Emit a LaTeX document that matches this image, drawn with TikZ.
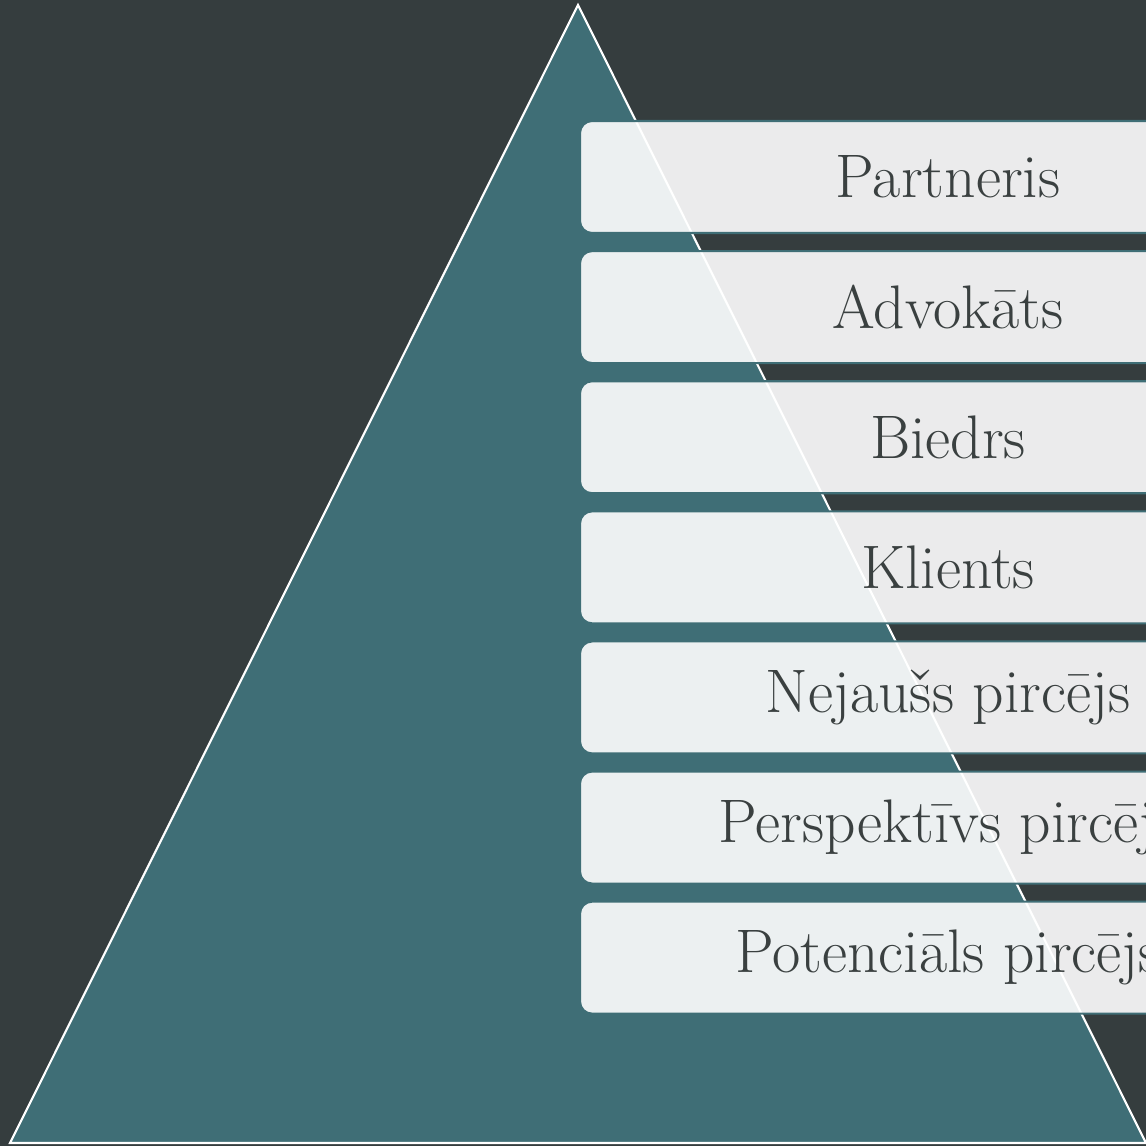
\documentclass[tikz,border=0pt]{standalone}
\usepackage{fontspec}
\usepackage{tikz}
\usetikzlibrary{positioning}
\definecolor{slate}{RGB}{53,61,62}
\definecolor{petrol}{RGB}{63,110,118}
\definecolor{inkgray}{RGB}{58,64,64}
\tikzset{level/.style={draw=petrol,line width=0.6pt,fill=white,fill opacity=0.9,
                       text opacity=1,text=inkgray,rectangle,rounded corners=0.12cm,
                       minimum width=7.36cm,minimum height=1.12cm,
                       font=\fontsize{17.5}{20}\selectfont},
         node distance=0.16cm}

\begin{document}
\begin{tikzpicture}
  \useasboundingbox (0,0) rectangle (11.46,-11.46);
  \clip (0,0) rectangle (11.46,-11.46);
  \fill[slate] (0,0) rectangle (11.46,-11.46);
  % the pyramid
  \coordinate (apex) at (5.78,-0.05);
  \coordinate (baseL) at (0.10,-11.43);
  \coordinate (baseR) at (11.46,-11.43);
  \filldraw[fill=petrol,draw=white,line width=0.6pt] (apex) -- (baseL) -- (baseR) -- cycle;
  % levels, top to bottom
  \node[level] (partneris) at (9.48,-1.77) {Partneris};
  \node[level,below=of partneris] (advokats) {Advokāts};
  \node[level,below=of advokats] (biedrs) {Biedrs};
  \node[level,below=of biedrs] (klients) {Klients};
  \node[level,below=of klients] (nejauss) {Nejaušs pircējs};
  \node[level,below=of nejauss] (perspektivs) {Perspektīvs pircējs};
  \node[level,below=of perspektivs] (potencials) {Potenciāls pircējs};
\end{tikzpicture}
\end{document}
